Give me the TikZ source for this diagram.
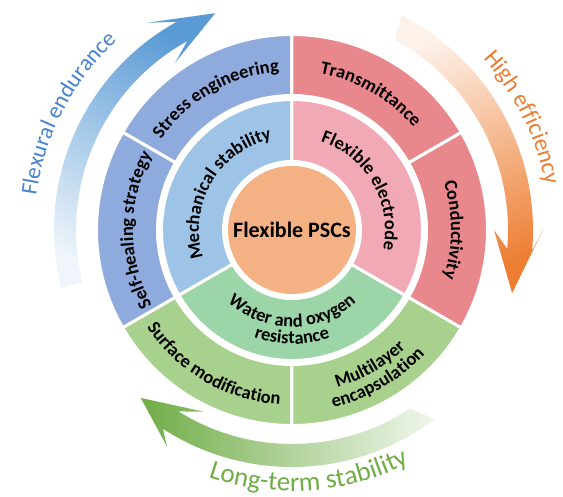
\documentclass[tikz,border=0pt]{standalone}
\usepackage{fontspec}
\setmainfont{Carlito}
\usetikzlibrary{decorations.text}

\definecolor{outblue}{RGB}{143,170,220}
\definecolor{midblue}{RGB}{157,195,230}
\definecolor{outred}{RGB}{232,135,140}
\definecolor{midpink}{RGB}{241,170,181}
\definecolor{outgreen}{RGB}{169,209,142}
\definecolor{midgreen}{RGB}{155,213,168}
\definecolor{coreorange}{RGB}{244,177,131}
\definecolor{arrblue}{RGB}{91,155,213}
\definecolor{arrorange}{RGB}{237,125,49}
\definecolor{arrgreen}{RGB}{112,173,71}
\definecolor{txtblue}{RGB}{70,130,205}

\newcommand{\segfont}{\fontsize{18.5}{20}\selectfont\bfseries}
\newcommand{\corefont}{\fontsize{22}{24}\selectfont\bfseries}

% colour, from, to, inner radius, outer radius
\newcommand{\ringpart}[5]{%
  \filldraw[sector, fill=#1] (#2:#4) arc[start angle=#2, end angle=#3, radius=#4]
    -- (#3:#5) arc[start angle=#3, end angle=#2, radius=#5] -- cycle;}
% from, to, radius, font, text
\newcommand{\arclabel}[5]{%
  \path[decorate, decoration={text along path, text align=center, text={|#4|#5}}]
    (#1:#3) arc[start angle=#1, end angle=#2, radius=#3];}

\begin{document}
\begin{tikzpicture}[x=1pt, y=1pt,
  sector/.style={draw=white, line width=3pt},
  bluearrow/.style={top color=arrblue, bottom color=arrblue!10, shading angle=-29},
  orangearrow/.style={top color=arrorange!10, bottom color=arrorange, shading angle=23},
  greenarrow/.style={left color=arrgreen, right color=arrgreen!10}]
\useasboundingbox (-292,-267) rectangle (271,230);

% outer ring
\ringpart{outblue}{90}{150}{134.5}{195.5}
\ringpart{outblue}{150}{210}{134.5}{195.5}
\ringpart{outgreen}{210}{270}{134.5}{195.5}
\ringpart{outgreen}{270}{330}{134.5}{195.5}
\ringpart{outred}{-30}{30}{134.5}{195.5}
\ringpart{outred}{30}{90}{134.5}{195.5}
% middle ring
\ringpart{midblue}{90}{210}{68.5}{130.5}
\ringpart{midgreen}{210}{330}{68.5}{130.5}
\ringpart{midpink}{-30}{90}{68.5}{130.5}
% core
\fill[coreorange] (0,0) circle[radius=64];
\node[font=\corefont] (core) at (0,0) {Flexible PSCs};

\arclabel{175}{65}{159}{\segfont}{Stress engineering}
\arclabel{235}{125}{159}{\segfont}{Self-healing strategy}
\arclabel{115}{5}{159}{\segfont}{Transmittance}
\arclabel{55}{-55}{159}{\segfont}{Conductivity}
\arclabel{180}{300}{175}{\segfont}{Surface modification}
\arclabel{240}{360}{164}{\segfont}{Multilayer}
\arclabel{240}{360}{182}{\segfont}{encapsulation}
\arclabel{210}{90}{93}{\segfont}{Mechanical stability}
\arclabel{90}{-30}{93}{\segfont}{Flexible electrode}
\arclabel{210}{330}{97}{\segfont}{Water and oxygen}
\arclabel{210}{330}{114}{\segfont}{resistance}

% curved arrows
\shade[bluearrow] (194:238) arc[start angle=194, end angle=119, radius=238]
  -- (125:253) -- (109.5:230) -- (125:204) -- (119:216)
  arc[start angle=119, end angle=194, radius=216] -- cycle;
\shade[orangearrow] (63:241) arc[start angle=63, end angle=-5, radius=241]
  -- (0:251) -- (-16:229) -- (0:202) -- (-5:216)
  arc[start angle=-5, end angle=61.5, radius=216] -- cycle;
\shade[greenarrow] (307:237) arc[start angle=307, end angle=237, radius=237]
  -- (240:250) -- (228:226) -- (244:202) -- (238:214)
  arc[start angle=238, end angle=303.5, radius=214] -- cycle;

\arclabel{210}{95}{258}{\fontsize{23}{25}\selectfont\color{txtblue}}{Flexural endurance}
\arclabel{80}{-28}{257}{\fontsize{24}{26}\selectfont\color{arrorange}}{High efficiency}
\arclabel{214}{334}{261}{\fontsize{27}{29}\selectfont\color{arrgreen}}{Long-term stability}
\end{tikzpicture}
\end{document}
